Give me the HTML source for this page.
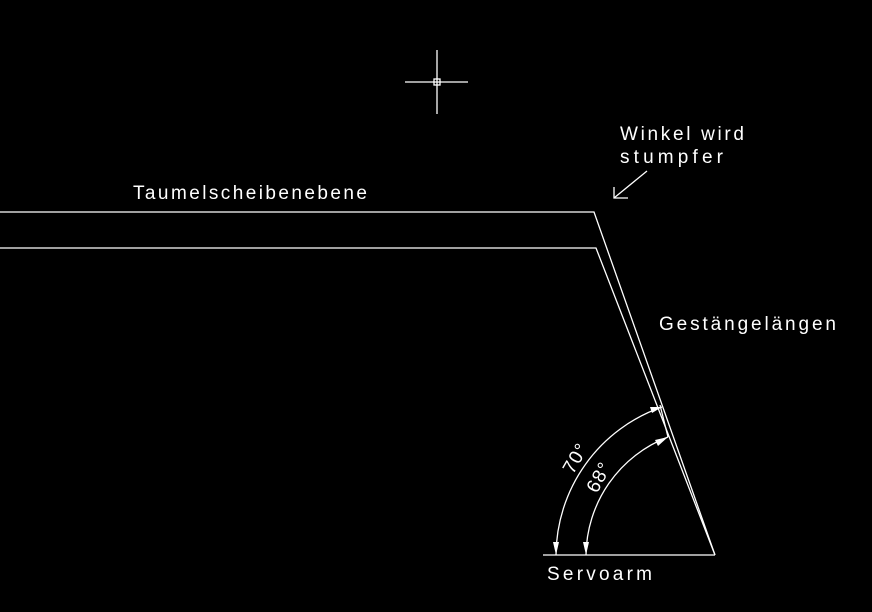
<!DOCTYPE html>
<html><head><meta charset="utf-8"><style>
html,body{margin:0;padding:0;background:#000;}
svg{display:block}
text{font-family:"Liberation Sans",sans-serif;fill:#fff;font-size:19px;letter-spacing:1px}
</style></head><body>
<svg width="872" height="612" viewBox="0 0 872 612" xmlns="http://www.w3.org/2000/svg">
<rect width="872" height="612" fill="#000"/>
<g stroke="#fff" stroke-width="1.3" fill="none">
<!-- crosshair -->
<line x1="405" y1="82" x2="468" y2="82"/>
<line x1="437" y1="50" x2="437" y2="114"/>
<rect x="434" y="79" width="6" height="6"/>
<!-- plates -->
<polyline points="0,212 594,212 715,555"/>
<polyline points="0,248 596,248 715,555"/>
<line x1="543" y1="555" x2="715" y2="555"/>
<!-- small second rod line -->
<line x1="660" y1="405" x2="668" y2="437"/>
<!-- arcs -->
<path d="M556,555 A158 158 0 0 1 662,407"/>
<path d="M586,555 A128 128 0 0 1 668,437"/>
<!-- note arrow -->
<line x1="647" y1="171" x2="614" y2="198"/>
<polyline points="614,187 614,198 628,198"/>
</g>
<g fill="#fff">
<polygon points="556,555 553,542 559,542"/>
<polygon points="586,555 583,542 589,542"/>
<polygon points="662,407 650,407 652,413"/>
<polygon points="668,437 655,440 658,446"/>
</g>
<text x="133" y="199" textLength="235">Taumelscheibenebene</text>
<text x="659" y="330" textLength="178">Gestängelängen</text>
<text x="547" y="580" textLength="106">Servoarm</text>
<text x="620" y="140" textLength="125">Winkel wird</text>
<text x="620" y="163" textLength="104">stumpfer</text>
<text transform="translate(573,475) rotate(-60)" font-size="18">70°</text>
<text transform="translate(597,494) rotate(-62)" font-size="18">68°</text>
</svg>
</body></html>
